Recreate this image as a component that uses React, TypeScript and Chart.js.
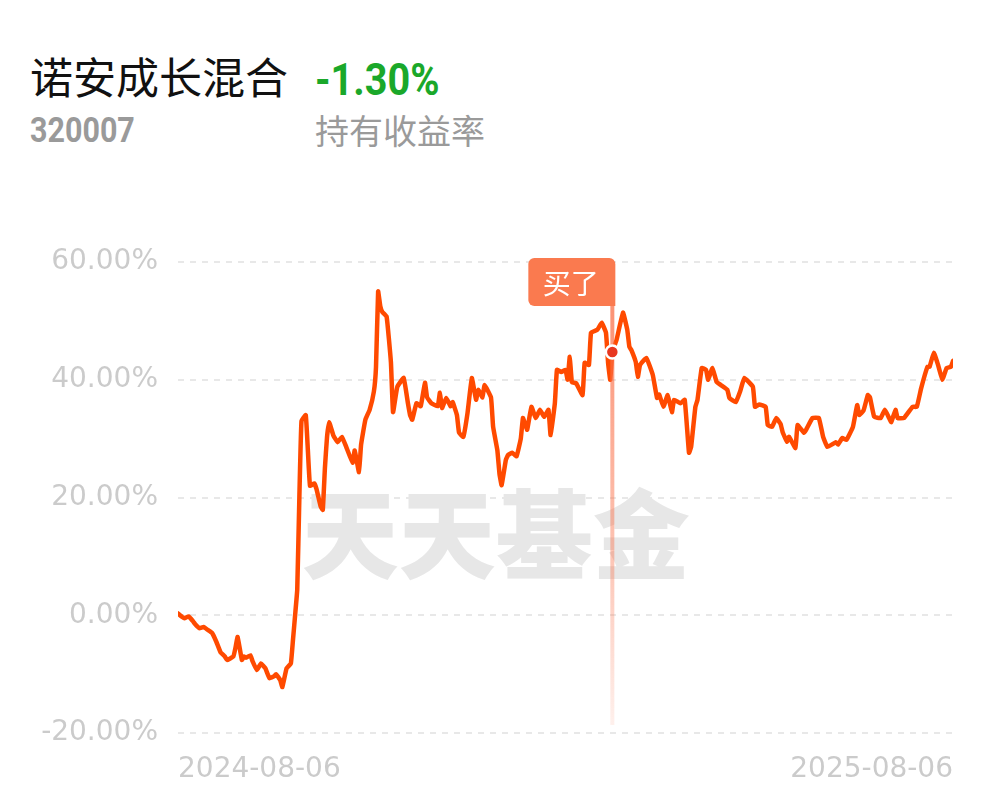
import React, { useEffect, useRef } from 'react';
import { Chart, registerables } from 'chart.js';

Chart.register(...registerables);

const fundName = '诺安成长混合';
const fundCode = '320007';
const holdingReturn = '-1.30%';
const holdingLabel = '持有收益率';
const xTickLabels = ['2024-08-06', '2025-08-06'];
const yTicks = [-20, 0, 20, 40, 60];
const buyDay = 204;
const buyLabel = '买了';
const watermark = '天天基金';

// day offsets since 2024-08-06
const dayOffsets = [
  0, 2, 3, 5, 7, 8, 10, 12, 14, 16, 18, 20, 22, 23, 26, 27, 28, 30, 31, 32,
  34, 35, 37, 39, 41, 43, 45, 46, 48, 49, 51, 53, 54, 55, 56, 57, 58, 60, 61, 62,
  64, 65, 67, 68, 69, 70, 71, 73, 75, 77, 79, 82, 83, 85, 86, 88, 90, 92, 93, 94,
  95, 96, 98, 100, 101, 103, 106, 108, 109, 110, 112, 114, 116, 117, 119, 122, 123, 124, 126, 128,
  129, 131, 132, 134, 136, 138, 140, 141, 143, 144, 147, 148, 150, 151, 152, 154, 155, 157, 159, 161,
  162, 163, 164, 166, 168, 170, 172, 174, 175, 177, 178, 180, 182, 183, 184, 185, 187, 190, 191, 193,
  194, 197, 199, 201, 202, 203, 204, 206, 209, 211, 212, 213, 215, 216, 217, 220, 223, 225, 226, 228,
  230, 232, 233, 236, 238, 240, 241, 243, 244, 246, 248, 249, 251, 253, 255, 258, 259, 262, 264, 266,
  270, 271, 273, 276, 277, 279, 281, 283, 284, 286, 287, 290, 291, 294, 295, 298, 301, 303, 305, 309,
  310, 312, 314, 317, 319, 320, 322, 324, 325, 327, 330, 332, 334, 335, 337, 338, 341, 345, 347, 349,
  352, 353, 355, 357, 359, 361, 363, 364,
];

// holding return (%)
const returnPct = [
  0.3, -0.3, -0.5, -0.2, -1.0, -1.5, -2.2, -2.0, -2.5, -3.0, -4.5, -6.3, -7.0, -7.6, -7.0, -5.5, -3.7, -7.6, -7.0, -7.2,
  -6.8, -7.8, -9.3, -8.2, -9.0, -10.7, -10.4, -10.0, -11.0, -12.2, -9.0, -8.2, -4.2, 0, 4.3, 20, 33, 34, 28, 22,
  22.4, 21.5, 18.5, 17.9, 25, 30.3, 32.8, 30.5, 29.4, 30.3, 28.6, 25.9, 28, 24.3, 29, 33.2, 34.9, 38, 42.2, 55,
  52.5, 51.5, 50.7, 43, 34.5, 38.8, 40.3, 36, 34, 33.2, 36, 35.5, 39.5, 37, 36, 35.5, 37.8, 35.2, 36.9, 35.5,
  36.2, 34, 31, 30.3, 34.4, 40.3, 36.6, 38.3, 37, 39.1, 37, 32, 28, 24, 22.1, 26.4, 27.2, 27.6, 27, 30,
  33.5, 32.5, 31.5, 35.4, 33.5, 34.9, 33.7, 34.9, 30.6, 36, 41.7, 41.3, 41.7, 40, 43.9, 39.6, 39.4, 37.4, 42.9, 42.5,
  48, 48.5, 49.7, 48, 42.9, 40, 44.7, 46.8, 51.4, 48.5, 45.6, 45, 43, 40.5, 42.5, 43.7, 40.8, 36.9, 37.5, 35.4,
  37.4, 34.5, 36.6, 36, 36.6, 27.6, 28.6, 35.4, 36.6, 42, 41.7, 40, 42, 39.6, 39.1, 38.3, 36.9, 36.2, 38, 40.3,
  38.8, 35.4, 35.8, 35.4, 32.3, 32, 33.5, 32.5, 31.1, 29.5, 30.3, 28.4, 32.3, 31, 31.5, 33.5, 33.5, 30.3, 28.6, 29.4,
  29.0, 30.1, 29.8, 32, 35.7, 34, 34.8, 37.4, 37, 33.7, 33.5, 34.9, 33.5, 32.8, 34.9, 33.5, 33.5, 35.4, 35.4, 38.5,
  42.2, 42.2, 44.6, 42.5, 40, 42, 42.2, 43.2,
];

const CANVAS_TOP = 200;
const CANVAS_W = 997;
const CANVAS_H = 602;

const tickFont = { family: '"DejaVu Sans", sans-serif', size: 28 };
const tickColor = '#cbcbcb';

const watermarkPlugin = {
  id: 'watermark',
  beforeDatasetsDraw(chart: any) {
    const { ctx, chartArea } = chart;
    const cx = chartArea.left + (chartArea.right - chartArea.left) * 0.41;
    const cy = chartArea.top + (chartArea.bottom - chartArea.top) * 0.578;
    ctx.save();
    ctx.font = '900 97px "Noto Sans CJK SC"';
    ctx.fillStyle = '#e7e7e7';
    ctx.textAlign = 'center';
    ctx.textBaseline = 'middle';
    ctx.fillText(watermark, cx, cy);
    ctx.restore();
  },
};

const buyMarkerPlugin = {
  id: 'buyMarker',
  afterDatasetsDraw(chart: any) {
    const { ctx, chartArea } = chart;
    const xs = chart.scales.x;
    const ys = chart.scales.y;
    const idx = dayOffsets.indexOf(buyDay);
    const x = xs.getPixelForValue(buyDay);
    const y = ys.getPixelForValue(returnPct[idx]);
    const boxH = 48;
    const boxW = 87;
    const boxTop = chartArea.top - 4;
    const boxRight = x + 3;
    const boxLeft = boxRight - boxW;
    const lineBottom = chartArea.bottom - 8;
    ctx.save();
    // vertical line
    const grad = ctx.createLinearGradient(0, boxTop + boxH, 0, lineBottom);
    grad.addColorStop(0, 'rgba(250,110,70,0.75)');
    grad.addColorStop(0.6, 'rgba(250,110,70,0.4)');
    grad.addColorStop(1, 'rgba(250,110,70,0.1)');
    ctx.strokeStyle = grad;
    ctx.lineWidth = 4;
    ctx.beginPath();
    ctx.moveTo(x, boxTop + boxH);
    ctx.lineTo(x, lineBottom);
    ctx.stroke();
    // box
    ctx.fillStyle = '#fa7a4f';
    ctx.beginPath();
    (ctx as any).roundRect(boxLeft, boxTop, boxW, boxH, [6, 6, 0, 6]);
    ctx.fill();
    ctx.fillStyle = '#ffffff';
    ctx.font = '28px "Noto Sans CJK SC"';
    ctx.textAlign = 'center';
    ctx.textBaseline = 'middle';
    ctx.fillText(buyLabel, boxLeft + boxW / 2 - 1, boxTop + boxH / 2 + 1);
    // dot
    ctx.beginPath();
    ctx.arc(x, y, 6.5, 0, Math.PI * 2);
    ctx.fillStyle = '#e8361f';
    ctx.fill();
    ctx.lineWidth = 2.5;
    ctx.strokeStyle = '#ffffff';
    ctx.stroke();
    ctx.restore();
  },
};

export default function App() {
  const canvasRef = useRef<HTMLCanvasElement | null>(null);

  useEffect(() => {
    if (!canvasRef.current) return;
    const chart = new Chart(canvasRef.current, {
      type: 'line',
      data: {
        datasets: [
          {
            data: dayOffsets.map((d, i) => ({ x: d, y: returnPct[i] })),
            borderColor: '#ff4a00',
            borderWidth: 4.5,
            pointRadius: 0,
            fill: false,
            tension: 0.1,
            borderJoinStyle: 'round',
            borderCapStyle: 'round',
          } as any,
        ],
      },
      options: {
        responsive: false,
        animation: false,
        devicePixelRatio: 1,
        layout: { padding: { top: 62, right: 44, left: 0, bottom: 0 } },
        plugins: { legend: { display: false }, tooltip: { enabled: false } },
        scales: {
          x: {
            type: 'linear',
            min: 0,
            max: dayOffsets[dayOffsets.length - 1],
            grid: { display: false, drawTicks: false },
            border: { display: false },
            afterFit: (s: any) => {
              s.height = 69;
            },
            afterBuildTicks: (s: any) => {
              s.ticks = [{ value: dayOffsets[0] }, { value: dayOffsets[dayOffsets.length - 1] }];
            },
            ticks: {
              align: 'inner',
              padding: 20,
              color: tickColor,
              font: tickFont,
              maxRotation: 0,
              autoSkip: false,
              callback: (_v: any, i: number) => xTickLabels[i],
            },
          } as any,
          y: {
            min: yTicks[0],
            max: yTicks[yTicks.length - 1],
            afterFit: (s: any) => {
              s.width = 178;
            },
            afterBuildTicks: (s: any) => {
              s.ticks = yTicks.map((v) => ({ value: v }));
            },
            grid: { color: '#e8e8e8', lineWidth: 2, drawTicks: false },
            border: { display: false, dash: [6, 6] },
            ticks: {
              padding: 20,
              color: tickColor,
              font: tickFont,
              callback: (v: any) => Number(v).toFixed(2) + '%',
            },
          } as any,
        },
      },
      plugins: [watermarkPlugin, buyMarkerPlugin],
    });
    return () => chart.destroy();
  }, []);

  return (
    <div
      style={{
        position: 'absolute',
        left: 0,
        top: 0,
        width: CANVAS_W,
        height: 802,
        background: '#ffffff',
        overflow: 'hidden',
      }}
    >
      <div
        style={{
          position: 'absolute',
          left: 30,
          top: 54,
          font: '43px "Noto Sans CJK SC"',
          lineHeight: 1,
          color: '#111111',
          whiteSpace: 'nowrap',
        }}
      >
        {fundName}
      </div>
      <div
        style={{
          position: 'absolute',
          left: 315,
          top: 57,
          font: 'bold 45px Roboto',
          lineHeight: 1,
          color: '#1aa82a',
          whiteSpace: 'nowrap',
          transform: 'scaleX(0.88)',
          transformOrigin: 'left top',
        }}
      >
        {holdingReturn}
      </div>
      <div
        style={{
          position: 'absolute',
          left: 30,
          top: 113,
          font: 'bold 35px Roboto',
          lineHeight: 1,
          color: '#9a9a9a',
          whiteSpace: 'nowrap',
          transform: 'scaleX(0.87)',
          transformOrigin: 'left top',
        }}
      >
        {fundCode}
      </div>
      <div
        style={{
          position: 'absolute',
          left: 315,
          top: 113,
          font: '34px "Noto Sans CJK SC"',
          lineHeight: 1,
          color: '#9a9a9a',
          whiteSpace: 'nowrap',
        }}
      >
        {holdingLabel}
      </div>
      <canvas
        ref={canvasRef}
        width={CANVAS_W}
        height={CANVAS_H}
        style={{ position: 'absolute', left: 0, top: CANVAS_TOP, width: CANVAS_W, height: CANVAS_H }}
      />
    </div>
  );
}
